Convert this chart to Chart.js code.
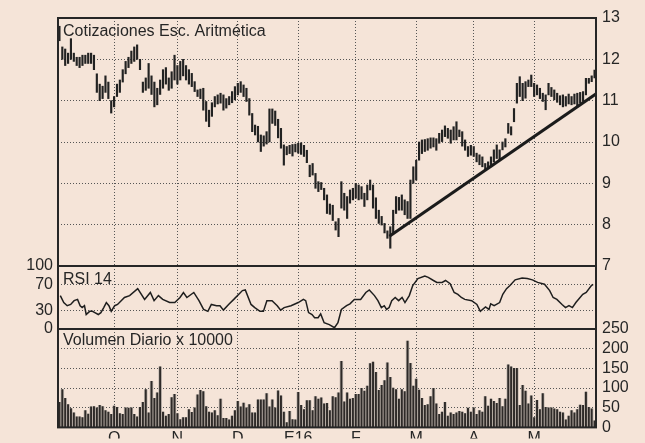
<!DOCTYPE html>
<html>
<head>
<meta charset="utf-8">
<script src="https://cdn.jsdelivr.net/npm/chart.js@4.4.1/dist/chart.umd.min.js"></script>
<style>
  html, body { margin: 0; padding: 0; background: #f5e4d8; }
  #wrap { position: relative; width: 645px; height: 443px; overflow: hidden; background: #f5e4d8; }
  #wrap canvas { position: absolute; left: 0; top: 0; }
</style>
</head>
<body>
<div id="wrap">
  <canvas id="vol" width="645" height="443"></canvas>
  <canvas id="rsi" width="645" height="443"></canvas>
  <canvas id="price" width="645" height="443"></canvas>
</div>
<script>
// meses (inicio de cada mes, en sesiones)
const monthLabels = ['O', 'N', 'D', 'E16', 'F', 'M', 'A', 'M'];
const monthStart = [19, 41, 62, 83, 103, 124, 144, 165];

// cotizaciones: maximo y minimo de cada sesion
const hi = [
  12.80,12.30,12.25,12.15,12.50,12.15,12.05,12.05,12.10,12.10,
  12.15,12.15,12.10,11.65,11.40,11.35,11.60,11.45,11.00,11.10,
  11.40,11.50,11.75,11.95,12.05,12.20,12.30,12.35,12.00,11.45,
  11.55,11.90,11.60,11.45,11.30,11.50,11.75,11.80,11.55,11.70,
  12.10,11.85,11.95,12.00,11.85,11.75,11.66,11.46,11.26,11.28,
  11.30,10.98,10.77,10.95,11.10,11.14,11.18,11.14,11.05,11.10,
  11.22,11.34,11.42,11.46,11.38,11.30,11.05,10.69,10.41,10.38,
  10.17,10.15,10.25,10.80,10.80,10.75,10.55,10.33,9.93,9.89,
  9.92,9.94,9.95,9.97,9.98,9.92,9.80,9.44,9.48,9.24,
  9.04,9.02,8.88,8.72,8.50,8.47,8.07,8.15,9.04,8.76,
  8.68,8.84,8.88,9.00,8.96,8.92,8.76,8.96,9.08,8.96,
  8.65,8.35,8.20,8.03,7.85,7.95,8.35,8.68,8.66,8.72,
  8.60,8.56,9.08,9.40,9.56,10.00,10.05,10.06,10.08,10.10,
  10.10,10.08,10.21,10.29,10.39,10.33,10.29,10.37,10.49,10.29,
  10.25,10.05,9.89,9.92,9.89,9.73,9.69,9.64,9.48,9.52,
  9.64,9.81,9.93,9.81,10.00,10.08,10.45,10.37,10.81,11.42,
  11.58,11.42,11.46,11.50,11.62,11.42,11.38,11.30,11.18,11.14,
  11.42,11.32,11.26,11.18,11.12,11.14,11.10,11.16,11.10,11.16,
  11.18,11.20,11.22,11.54,11.54,11.60,11.74
];
const lo = [
  12.45,12.00,11.85,11.90,12.00,11.95,11.85,11.80,11.85,11.90,
  11.90,11.90,11.75,11.20,11.00,11.05,11.20,11.05,10.70,10.85,
  11.10,11.20,11.45,11.65,11.80,11.90,11.95,12.00,11.75,11.20,
  11.25,11.30,11.15,10.85,10.90,11.15,11.30,11.40,11.25,11.30,
  11.50,11.40,11.50,11.60,11.50,11.40,11.34,11.22,11.10,11.05,
  10.77,10.50,10.37,10.62,10.85,10.92,10.94,10.77,10.82,10.90,
  10.95,11.02,11.14,11.20,11.10,10.98,10.65,10.25,10.17,10.00,
  9.77,9.90,9.95,10.00,10.45,10.40,10.10,9.85,9.44,9.69,
  9.72,9.66,9.76,9.73,9.70,9.65,9.50,9.16,9.20,8.88,
  8.80,8.85,8.60,8.27,8.25,8.10,7.87,7.71,8.40,8.35,
  8.15,8.52,8.60,8.64,8.60,8.62,8.44,8.60,8.84,8.40,
  8.15,8.03,7.99,7.80,7.67,7.43,7.79,8.27,8.35,8.35,
  8.24,8.15,8.15,9.00,9.08,9.56,9.72,9.77,9.80,9.85,
  9.88,9.80,9.97,10.01,10.13,10.09,9.97,10.05,10.05,10.13,
  9.90,9.80,9.65,9.68,9.65,9.52,9.45,9.40,9.32,9.36,
  9.40,9.52,9.60,9.56,9.81,9.88,10.21,10.17,10.49,10.94,
  11.10,11.00,11.06,11.34,11.34,11.10,11.14,11.05,10.98,10.78,
  11.14,11.10,11.02,10.96,10.90,10.85,10.87,10.92,10.90,10.92,
  10.88,10.94,10.98,11.14,11.42,11.46,11.55
];

// linea de tendencia (sesion, precio)
const trendDay = [114.7, 186.8];
const trendVal = [7.72, 11.18];

// RSI 14 (sesion, valor)
const rsiDay = [
  0.3,1.5,2.7,3.9,5.1,6.3,7.2,7.9,8.7,9.3,
  10.5,11.5,12.3,13.5,14.4,15.4,16.3,17.2,18.0,19.2,
  20.2,22.6,24.4,27.2,29.6,31.6,32.9,34.4,35.9,38.3,
  40.1,41.9,43.1,44.3,46.7,48.5,50.1,51.6,52.8,54.6,
  55.8,57.0,58.8,60.6,63.6,64.6,66.6,67.9,69.7,70.9,
  72.1,73.9,75.7,76.9,78.1,80.5,83.0,84.8,85.6,86.6,
  87.8,88.7,89.9,90.8,92.0,93.8,95.6,96.8,98.0,99.8,
  101.0,102.5,104.7,106.5,107.7,109.5,110.7,111.9,112.9,113.7,
  114.6,115.5,116.7,117.9,119.1,120.1,121.6,122.8,124.6,127.0,
  128.2,130.0,131.2,133.0,134.2,135.8,137.2,138.5,139.7,140.9,
  143.3,145.1,146.3,148.1,149.3,149.9,151.1,153.0,154.1,155.4,
  156.6,158.4,160.8,162.6,164.4,166.2,168.6,170.4,171.6,172.9,
  174.7,175.9,177.1,178.3,179.5,181.9,183.1,184.9,185.5
];
const rsiVal = [
  53,42,37,39,45,47,37,34,37,23,
  28,28,26,23,26,34,42,37,28,37,
  39,50,53,64,47,58,45,53,47,42,
  42,50,58,50,58,45,31,28,39,37,
  37,30,39,47,61,62,39,34,28,28,
  45,45,37,30,34,37,42,47,45,26,
  23,18,18,24,10,7,2,10,31,37,
  40,47,47,58,62,53,45,34,37,31,
  34,45,50,45,50,42,53,69,80,84,
  82,77,74,74,77,72,58,55,50,47,
  45,39,28,35,31,40,37,42,55,64,
  69,78,81,80,78,74,71,61,50,47,
  39,34,37,34,42,55,58,69,71
];
const rsiTicks = [0, 30, 70, 100];

// volumen diario x 10000
const vol = [
  64,96,74,58,48,37,27,27,25,43,34,52,53,50,56,53,43,39,33,
  54,51,35,33,50,49,50,33,27,51,64,
  96,37,117,74,88,154,39,29,33,76,84,
  35,20,25,25,45,38,50,83,94,91,53,39,37,43,30,72,23,23,19,29,43,
  66,52,62,50,58,37,37,70,70,70,86,52,70,50,93,80,39,12,41,20,19,
  89,56,45,68,68,43,78,72,75,60,
  61,43,78,76,88,168,65,88,72,74,
  84,84,99,92,105,162,166,140,94,107,119,164,127,100,96,72,96,91,219,163,105,
  123,95,74,56,58,78,99,60,33,39,64,29,37,33,37,41,39,35,49,39,50,
  33,43,39,78,54,72,66,61,74,53,72,159,154,150,150,56,107,92,60,80,
  25,69,45,86,51,50,50,47,45,39,37,19,29,43,37,45,57,56,90,51,47,17
];

const ink = '#262626';
const gridInk = '#555';
Chart.defaults.font.family = "'Liberation Sans', Arial, Helvetica, sans-serif";
Chart.defaults.font.size = 16;
Chart.defaults.color = ink;

// marco del panel y su rotulo
const panelPlugin = {
  id: 'panel',
  afterDraw(chart, args, opts) {
    const { ctx, chartArea: a } = chart;
    ctx.save();
    ctx.strokeStyle = ink;
    ctx.lineWidth = 2;
    ctx.strokeRect(a.left, a.top, a.right - a.left, a.bottom - a.top);
    ctx.fillStyle = ink;
    ctx.font = "16px 'Liberation Sans', Arial, sans-serif";
    ctx.textBaseline = 'alphabetic';
    ctx.fillText(opts.label, a.left + 5, a.top + opts.dy);
    ctx.restore();
  }
};

function xAxis(showLabels) {
  return {
    type: 'linear',
    min: -0.5,
    max: hi.length - 0.5,
    bounds: 'data',
    offset: false,
    afterBuildTicks: axis => { axis.ticks = monthStart.map(v => ({ value: v })); },
    ticks: { display: showLabels, autoSkip: false, maxRotation: 0, padding: 2,
             callback: (v, i) => monthLabels[i] },
    grid: { color: gridInk, lineWidth: 1, drawTicks: false, offset: false },
    border: { display: false, dash: [1, 2] },
    afterFit: axis => { axis.height = showLabels ? 11 : 0; }
  };
}

const common = {
  responsive: false,
  animation: false,
  events: [],
  plugins: { legend: { display: false }, tooltip: { enabled: false } }
};

const days = hi.map((h, i) => i);

new Chart(document.getElementById('price'), {
  type: 'bar',
  data: {
    datasets: [
      {
        type: 'line',
        data: trendDay.map((d, i) => ({ x: d, y: trendVal[i] })),
        borderColor: '#1b1b1b',
        borderWidth: 3,
        pointRadius: 0
      },
      {
        data: days.map(i => ({ x: i, y: [lo[i], hi[i]] })),
        backgroundColor: '#222',
        barThickness: 1.5
      }
    ]
  },
  options: {
    ...common,
    layout: { padding: { left: 58, top: 18, right: 0, bottom: 177 } },
    plugins: { ...common.plugins, panel: { label: 'Cotizaciones Esc. Aritmética', dy: 18 } },
    scales: {
      x: xAxis(false),
      y: {
        position: 'right',
        min: 7,
        max: 13,
        ticks: { stepSize: 1, padding: 6, autoSkip: false },
        grid: { color: gridInk, lineWidth: 1, drawTicks: false },
        border: { display: false, dash: [1, 2] },
        afterFit: axis => { axis.width = 49; }
      }
    }
  },
  plugins: [panelPlugin]
});

new Chart(document.getElementById('rsi'), {
  type: 'line',
  data: {
    datasets: [{
      data: rsiDay.map((d, i) => ({ x: d, y: rsiVal[i] })),
      borderColor: '#1e1e1e',
      borderWidth: 1.5,
      pointRadius: 0,
      tension: 0
    }]
  },
  options: {
    ...common,
    layout: { padding: { left: 0, top: 266, right: 49, bottom: 114 } },
    plugins: { ...common.plugins, panel: { label: 'RSI 14', dy: 18 } },
    scales: {
      x: xAxis(false),
      y: {
        position: 'left',
        min: 0,
        max: 100,
        afterBuildTicks: axis => { axis.ticks = rsiTicks.map(v => ({ value: v })); },
        ticks: { padding: 5, autoSkip: false },
        grid: { color: gridInk, lineWidth: 1, drawTicks: false },
        border: { display: false, dash: [1, 2] },
        afterFit: axis => { axis.width = 58; }
      }
    }
  },
  plugins: [panelPlugin]
});

new Chart(document.getElementById('vol'), {
  type: 'bar',
  data: {
    datasets: [
      {
        data: days.map(i => ({ x: i, y: vol[i] })),
        backgroundColor: '#2e2a28',
        barThickness: 1.3,
        grouped: false
      },
      {
        data: days.map(i => ({ x: i, y: vol[i] })),
        backgroundColor: '#c2b8b0',
        barPercentage: 1,
        categoryPercentage: 1,
        grouped: false
      }
    ]
  },
  options: {
    ...common,
    layout: { padding: { left: 58, top: 329, right: 0, bottom: 0 } },
    plugins: { ...common.plugins, panel: { label: 'Volumen Diario x 10000', dy: 16 } },
    scales: {
      x: xAxis(true),
      y: {
        position: 'right',
        min: 0,
        max: 250,
        ticks: { stepSize: 50, padding: 6, autoSkip: false },
        grid: { color: gridInk, lineWidth: 1, drawTicks: false },
        border: { display: false, dash: [1, 2] },
        afterFit: axis => { axis.width = 49; }
      }
    }
  },
  plugins: [panelPlugin]
});
</script>
</body>
</html>
